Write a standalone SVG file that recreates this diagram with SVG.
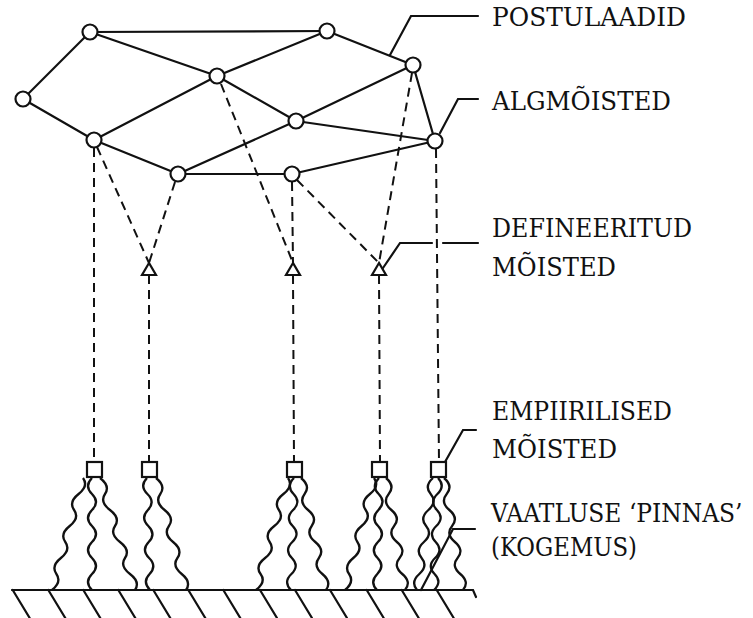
<svg xmlns="http://www.w3.org/2000/svg" width="753" height="618" viewBox="0 0 753 618">
<style>
.e{stroke:#111;stroke-width:2.2;fill:none;stroke-linecap:round}
.d{stroke:#111;stroke-width:2;fill:none;stroke-dasharray:9 6}
.w{stroke:#111;stroke-width:2.3;fill:none}
.n{stroke:#111;stroke-width:2.2;fill:#fff}
text{font-family:'DejaVu Serif','Liberation Serif',serif;font-size:26px;fill:#111}
</style>
<rect width="753" height="618" fill="#fff"/>
<g id="connectors">
<g id="edges" class="e">
<line x1="90" y1="32" x2="327" y2="31"/>
<line x1="90" y1="32" x2="23" y2="99"/>
<line x1="90" y1="32" x2="217" y2="76"/>
<line x1="327" y1="31" x2="217" y2="76"/>
<line x1="327" y1="31" x2="413" y2="65"/>
<line x1="23" y1="99" x2="94" y2="140"/>
<line x1="94" y1="140" x2="217" y2="76"/>
<line x1="94" y1="140" x2="178" y2="174"/>
<line x1="217" y1="76" x2="296" y2="121"/>
<line x1="413" y1="65" x2="296" y2="121"/>
<line x1="296" y1="121" x2="435" y2="141"/>
<line x1="413" y1="65" x2="435" y2="141"/>
<line x1="178" y1="174" x2="296" y2="121"/>
<line x1="178" y1="174" x2="292" y2="174"/>
<line x1="292" y1="174" x2="435" y2="141"/>
</g>
<g id="dashed" class="d">
<line x1="94" y1="148" x2="94" y2="462"/>
<line x1="97" y1="147" x2="149" y2="263"/>
<line x1="175" y1="182" x2="149" y2="263"/>
<line x1="221" y1="84" x2="293" y2="263"/>
<line x1="292" y1="182" x2="293" y2="263"/>
<line x1="297" y1="180" x2="379" y2="263"/>
<line x1="412" y1="73" x2="379" y2="263"/>
<line x1="436" y1="149" x2="439" y2="462"/>
<line x1="149" y1="275" x2="149" y2="462"/>
<line x1="293" y1="275" x2="294" y2="462"/>
<line x1="379" y1="275" x2="380" y2="462"/>
</g>
<g id="leaders" class="e">
<path d="M390 55 L411 16 L478 16"/>
<path d="M440 133 L458 99 L478 99"/>
<path d="M383 268 L400 243 L432 243 M443 243 L478 243"/>
<path d="M445 462 L463 430 L476 430"/>
<path d="M421 590 L453 529 L475 529"/>
</g>
<g id="waves" class="w">
<path d="M83 478 Q88.8 486 78.6 494 T74.1 510 T69.7 526 T65.3 542 T60.9 558 T56.4 574 T52 590"/>
<path d="M92 478 Q84 486 92 494 T92 510 T92 526 T92 542 T92 558 T92 574 T92 590"/>
<path d="M100 478 Q110.5 486 105 494 T110 510 T115 526 T120 542 T125 558 T130 574 T135 590"/>
<path d="M147 478 Q139.2 486 147.4 494 T147.9 510 T148.3 526 T148.7 542 T149.1 558 T149.6 574 T150 590"/>
<path d="M156 478 Q166.1 486 160.3 494 T164.6 510 T168.9 526 T173.1 542 T177.4 558 T181.7 574 T186 590"/>
<path d="M288 478 Q293.7 486 283.4 494 T278.9 510 T274.3 526 T269.7 542 T265.1 558 T260.6 574 T256 590"/>
<path d="M294 478 Q285.8 486 293.6 494 T293.1 510 T292.7 526 T292.3 542 T291.9 558 T291.4 574 T291 590"/>
<path d="M301 478 Q310.8 486 304.6 494 T308.1 510 T311.7 526 T315.3 542 T318.9 558 T322.4 574 T326 590"/>
<path d="M374 478 Q379.9 486 369.9 494 T365.7 510 T361.6 526 T357.4 542 T353.3 558 T349.1 574 T345 590"/>
<path d="M379 478 Q370.9 486 378.7 494 T378.4 510 T378.1 526 T377.9 542 T377.6 558 T377.3 574 T377 590"/>
<path d="M386 478 Q395.4 486 388.7 494 T391.4 510 T394.1 526 T396.9 542 T399.6 558 T402.3 574 T405 590"/>
<path d="M433 478 Q423.9 486 430.7 494 T428.4 510 T426.1 526 T423.9 542 T421.6 558 T419.3 574 T417 590"/>
<path d="M438 478 Q445.7 486 437.4 494 T436.9 510 T436.3 526 T435.7 542 T435.1 558 T434.6 574 T434 590"/>
<path d="M444 478 Q453.4 486 446.7 494 T449.4 510 T452.1 526 T454.9 542 T457.6 558 T460.3 574 T463 590"/>
</g>
</g>
<g id="ground" class="e">
<path d="M12 590 L473 590 L476 597"/>
<path d="M12.7 590 l17 28 M48.3 590 l17 28 M83.3 590 l17 28 M118.3 590 l17 28 M153.3 590 l17 28 M188.3 590 l17 28 M223.3 590 l17 28 M260 590 l17 28 M295 590 l17 28 M330 590 l17 28 M366.7 590 l17 28 M401.7 590 l17 28 M436.7 590 l17 28"/>
</g>
<g id="postulates">
<circle id="nA" class="n" cx="90" cy="32" r="7.5"/>
<circle id="nB" class="n" cx="327" cy="31" r="7.5"/>
<circle id="nC" class="n" cx="23" cy="99" r="7.5"/>
<circle id="nD" class="n" cx="217" cy="76" r="7.5"/>
<circle id="nE" class="n" cx="413" cy="65" r="7.5"/>
<circle id="nF" class="n" cx="296" cy="121" r="7.5"/>
<circle id="nG" class="n" cx="94" cy="140" r="7.5"/>
<circle id="nH" class="n" cx="435" cy="141" r="7.5"/>
<circle id="nI" class="n" cx="178" cy="174" r="7.5"/>
<circle id="nJ" class="n" cx="292" cy="174" r="7.5"/>
</g>
<g id="defined">
<polygon id="t1" class="n" points="149,263 142,275 156,275"/>
<polygon id="t2" class="n" points="293,263 286,275 300,275"/>
<polygon id="t3" class="n" points="379,263 372,275 386,275"/>
</g>
<g id="empirical">
<rect id="s1" class="n" x="87" y="462" width="15" height="15"/>
<rect id="s2" class="n" x="142" y="462" width="15" height="15"/>
<rect id="s3" class="n" x="287" y="462" width="15" height="15"/>
<rect id="s4" class="n" x="372" y="462" width="15" height="15"/>
<rect id="s5" class="n" x="431" y="462" width="15" height="15"/>
</g>
<g id="labels">
<text x="492" y="26" textLength="194" lengthAdjust="spacingAndGlyphs">POSTULAADID</text>
<text x="492" y="110" textLength="179" lengthAdjust="spacingAndGlyphs">ALGMÕISTED</text>
<text x="492" y="237" textLength="200" lengthAdjust="spacingAndGlyphs">DEFINEERITUD</text>
<text x="492" y="276" textLength="124" lengthAdjust="spacingAndGlyphs">MÕISTED</text>
<text x="492" y="420" textLength="180" lengthAdjust="spacingAndGlyphs">EMPIIRILISED</text>
<text x="492" y="458" textLength="125" lengthAdjust="spacingAndGlyphs">MÕISTED</text>
<text transform="translate(491 522) scale(0.9 1)" x="0" y="0">VAATLUSE ‘PINNAS’</text>
<text x="491" y="556" textLength="146" lengthAdjust="spacingAndGlyphs">(KOGEMUS)</text>
</g>
</svg>
